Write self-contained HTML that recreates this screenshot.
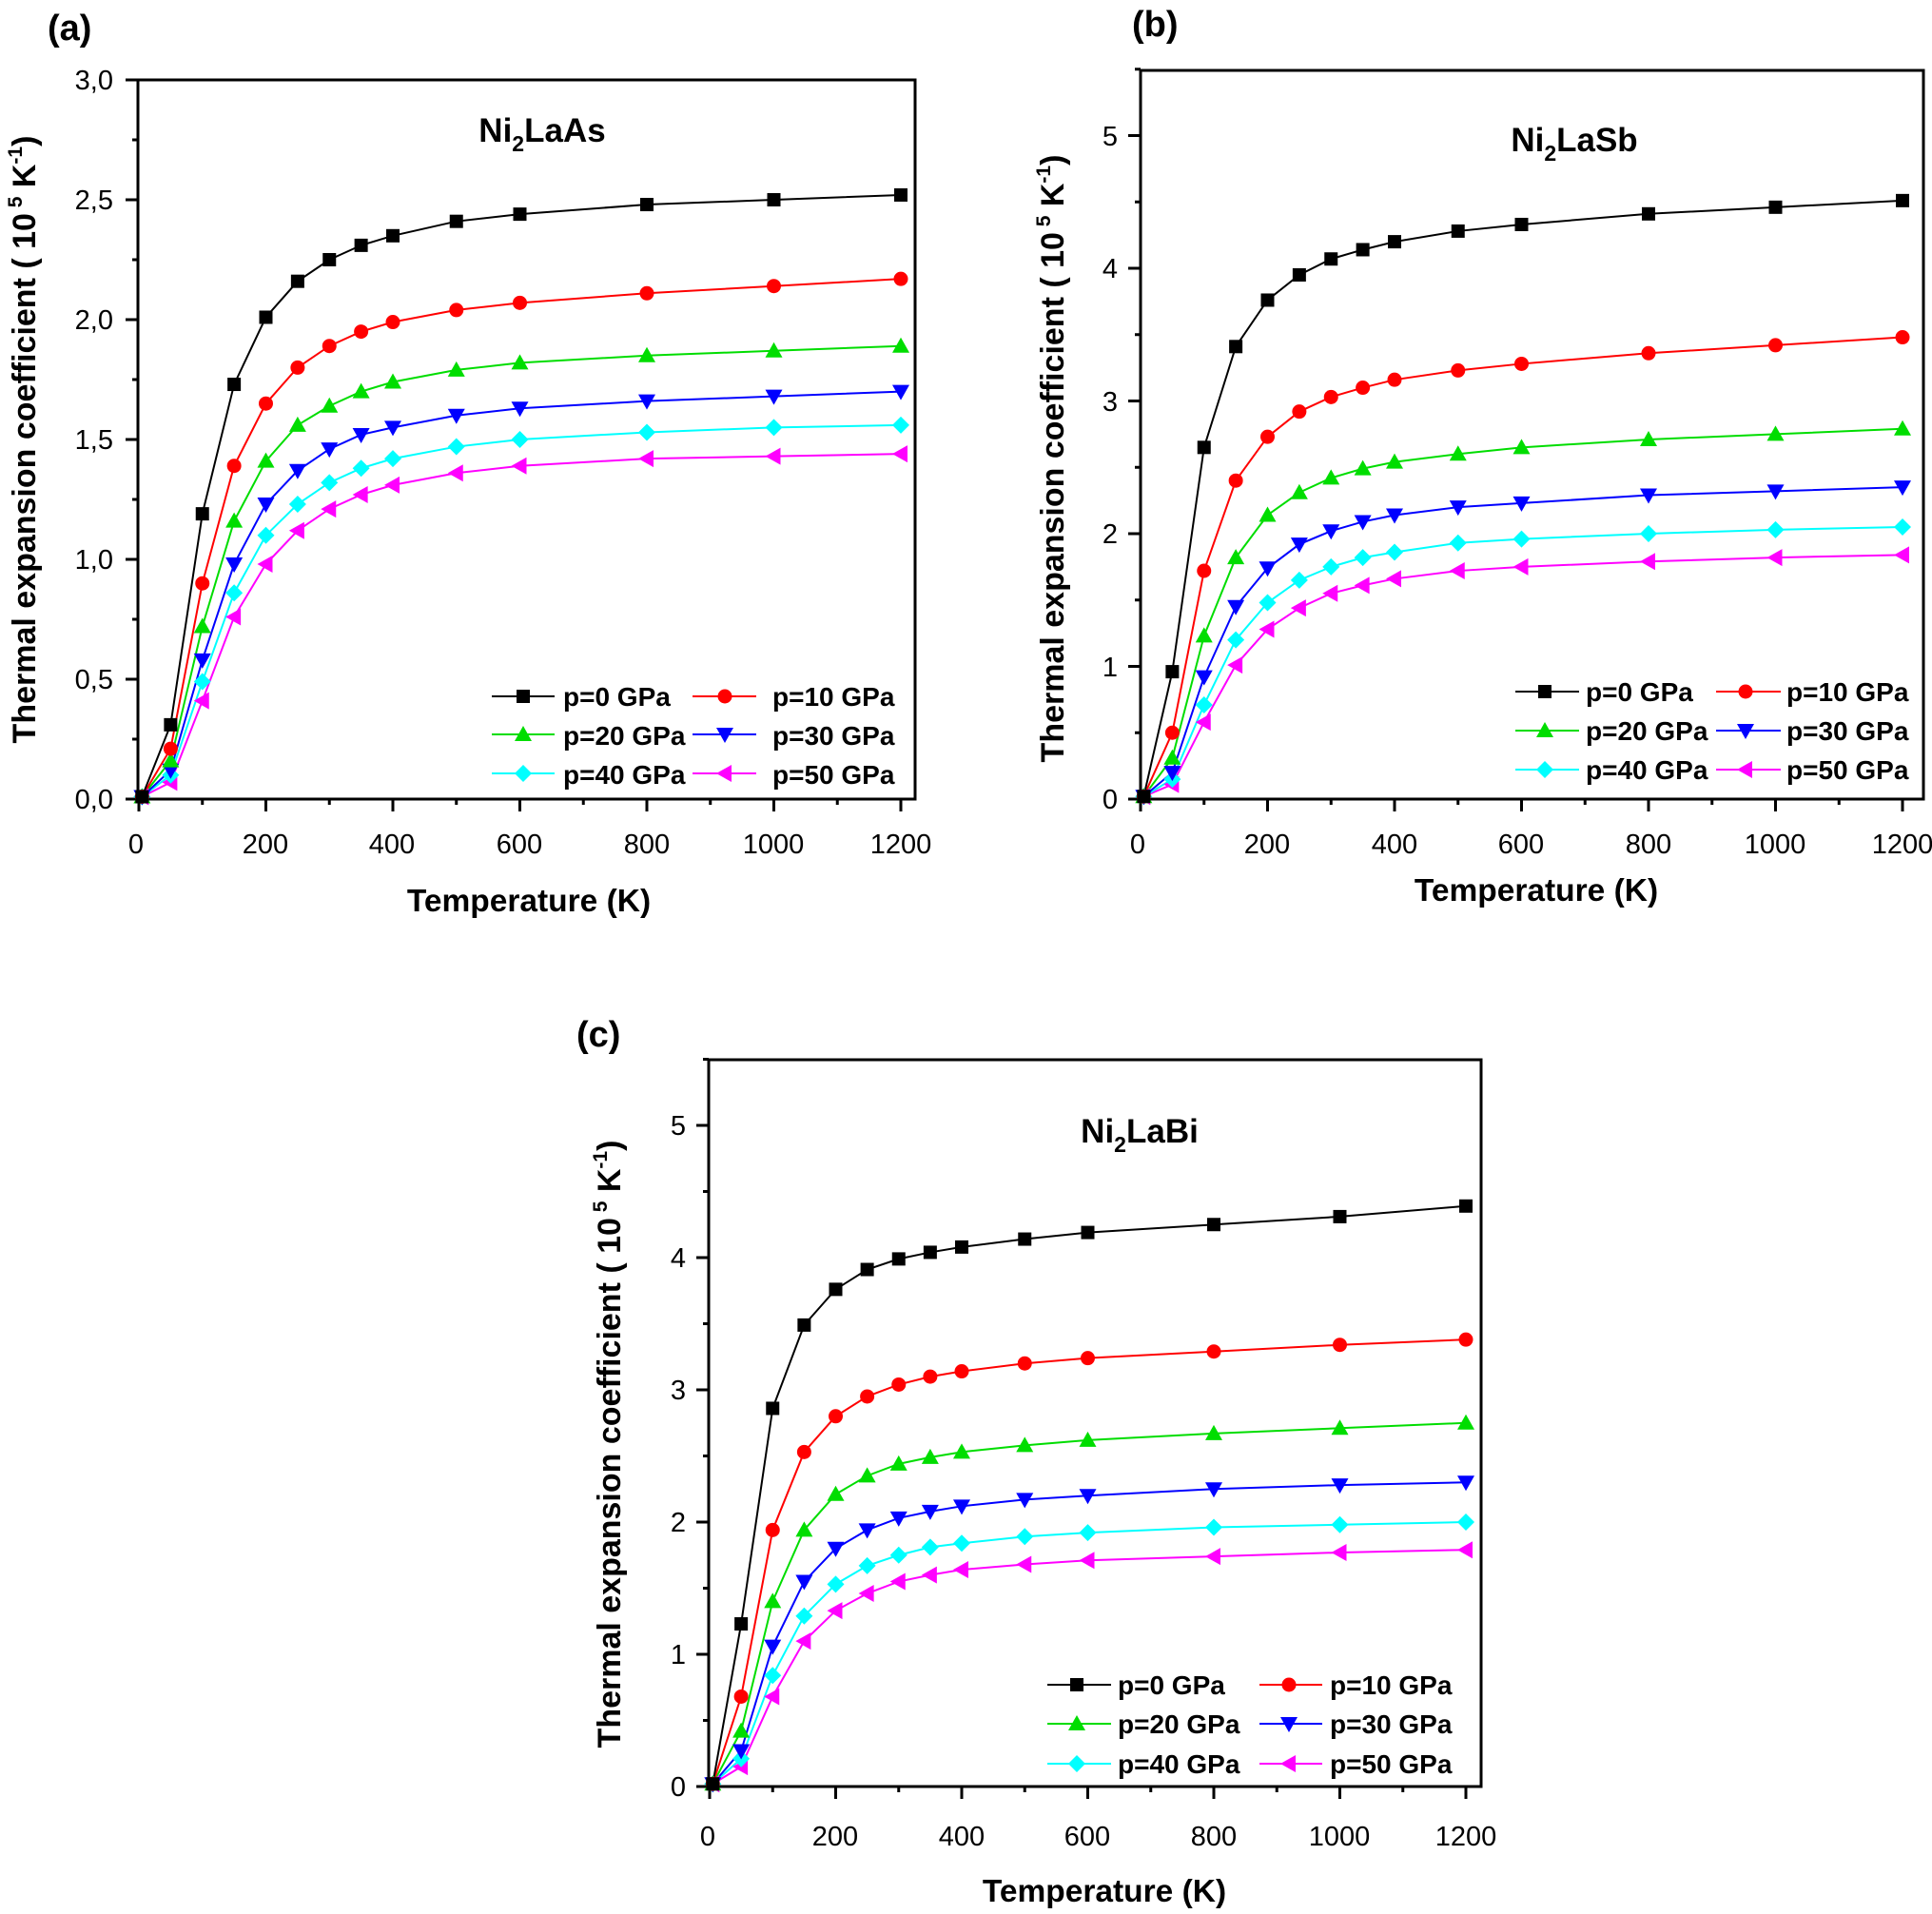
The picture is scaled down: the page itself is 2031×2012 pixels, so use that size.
<!DOCTYPE html>
<html><head><meta charset="utf-8"><style>
html,body{margin:0;padding:0;background:#fff}
svg{display:block}
text{font-family:"Liberation Sans",Arial,sans-serif}
.tk{font-size:29px}
.b{font-weight:bold}
.lg{font-size:28px;font-weight:bold}
</style></head><body>
<svg id="s" width="2031" height="2012" viewBox="0 0 2031 2012" xmlns="http://www.w3.org/2000/svg">
<g id="g"></g>
<text x="50" y="42" class="b" font-size="38">(a)</text>
<text x="1190" y="38" class="b" font-size="38">(b)</text>
<text x="606" y="1100" class="b" font-size="38">(c)</text>
<text x="570" y="149" class="b" font-size="35" text-anchor="middle">Ni<tspan font-size="23" dy="10">2</tspan><tspan dy="-10">LaAs</tspan></text>
<text x="1655" y="159" class="b" font-size="35" text-anchor="middle">Ni<tspan font-size="23" dy="10">2</tspan><tspan dy="-10">LaSb</tspan></text>
<text x="1198" y="1201" class="b" font-size="35" text-anchor="middle">Ni<tspan font-size="23" dy="10">2</tspan><tspan dy="-10">LaBi</tspan></text>
<text x="556" y="958" class="b" font-size="33.5" text-anchor="middle">Temperature (K)</text>
<text x="1615" y="947" class="b" font-size="33.5" text-anchor="middle">Temperature (K)</text>
<text x="1161" y="1999" class="b" font-size="33.5" text-anchor="middle">Temperature (K)</text>
<text transform="translate(37,462) rotate(-90)" class="b" font-size="34" text-anchor="middle">Thermal expansion coefficient ( 10<tspan font-size="21" dy="-14"> 5</tspan><tspan dy="14"> K</tspan><tspan font-size="21" dy="-14">-1</tspan><tspan dy="14">)</tspan></text>
<text transform="translate(1118,482) rotate(-90)" class="b" font-size="34" text-anchor="middle">Thermal expansion coefficient ( 10<tspan font-size="21" dy="-14"> 5</tspan><tspan dy="14"> K</tspan><tspan font-size="21" dy="-14">-1</tspan><tspan dy="14">)</tspan></text>
<text transform="translate(652,1518) rotate(-90)" class="b" font-size="34" text-anchor="middle">Thermal expansion coefficient ( 10<tspan font-size="21" dy="-14"> 5</tspan><tspan dy="14"> K</tspan><tspan font-size="21" dy="-14">-1</tspan><tspan dy="14">)</tspan></text>
<g class="tk" text-anchor="middle">
<text x="143" y="897">0</text><text x="279" y="897">200</text><text x="412" y="897">400</text><text x="546" y="897">600</text><text x="680" y="897">800</text><text x="813" y="897">1000</text><text x="947" y="897">1200</text>
<text x="1196" y="897">0</text><text x="1332" y="897">200</text><text x="1466" y="897">400</text><text x="1599" y="897">600</text><text x="1733" y="897">800</text><text x="1866" y="897">1000</text><text x="2000" y="897">1200</text>
<text x="744" y="1940">0</text><text x="878" y="1940">200</text><text x="1011" y="1940">400</text><text x="1143" y="1940">600</text><text x="1276" y="1940">800</text><text x="1408" y="1940">1000</text><text x="1541" y="1940">1200</text>
</g>
<g class="tk" text-anchor="end">
<text x="119" y="850">0,0</text><text x="119" y="724">0,5</text><text x="119" y="598">1,0</text><text x="119" y="472">1,5</text><text x="119" y="346">2,0</text><text x="119" y="220">2,5</text><text x="119" y="94">3,0</text>
<text x="1175" y="850">0</text><text x="1175" y="711">1</text><text x="1175" y="571">2</text><text x="1175" y="432">3</text><text x="1175" y="292">4</text><text x="1175" y="153">5</text>
<text x="721" y="1888">0</text><text x="721" y="1749">1</text><text x="721" y="1610">2</text><text x="721" y="1471">3</text><text x="721" y="1332">4</text><text x="721" y="1193">5</text>
</g>
<g class="lg">
<text x="592" y="742">p=0 GPa</text><text x="812" y="742">p=10 GPa</text>
<text x="592" y="783">p=20 GPa</text><text x="812" y="783">p=30 GPa</text>
<text x="592" y="824">p=40 GPa</text><text x="812" y="824">p=50 GPa</text>
<text x="1667" y="737">p=0 GPa</text><text x="1878" y="737">p=10 GPa</text>
<text x="1667" y="778">p=20 GPa</text><text x="1878" y="778">p=30 GPa</text>
<text x="1667" y="819">p=40 GPa</text><text x="1878" y="819">p=50 GPa</text>
<text x="1175" y="1781">p=0 GPa</text><text x="1398" y="1781">p=10 GPa</text>
<text x="1175" y="1822">p=20 GPa</text><text x="1398" y="1822">p=30 GPa</text>
<text x="1175" y="1864">p=40 GPa</text><text x="1398" y="1864">p=50 GPa</text>
</g>
</svg>
<script>
var NS="http://www.w3.org/2000/svg",G=document.getElementById("g");
function el(t,a){var e=document.createElementNS(NS,t);for(var k in a)e.setAttribute(k,a[k]);G.appendChild(e);return e;}
var cols=["#000","#f00","#0d0","#00f","#0ff","#f0f"];
function mk(i,x,y){var c=cols[i],s=7;
 if(i==0)el("rect",{x:x-s,y:y-s,width:2*s,height:2*s,fill:c});
 else if(i==1)el("circle",{cx:x,cy:y,r:7.5,fill:c});
 else if(i==2)el("polygon",{points:(x)+","+(y-9)+" "+(x+9)+","+(y+7)+" "+(x-9)+","+(y+7),fill:c});
 else if(i==3)el("polygon",{points:(x)+","+(y+9)+" "+(x+9)+","+(y-7)+" "+(x-9)+","+(y-7),fill:c});
 else if(i==4)el("polygon",{points:(x)+","+(y-9)+" "+(x+9)+","+y+" "+x+","+(y+9)+" "+(x-9)+","+y,fill:c});
 else el("polygon",{points:(x-9)+","+y+" "+(x+7)+","+(y-9)+" "+(x+7)+","+(y+9),fill:c});}
var X=[5,50,100,150,200,250,300,350,400,500,600,800,1000,1200];
var P=[
{l:145,t:84,r:962,b:840,x0:146,x1:947,y0:840,yu:252,ymax:3,maj:0.5,min:0.25,
leg:{rows:[732,772,813],c1:[517,583,550],c2:[728,795,762]},
d:[[0.01,0.31,1.19,1.73,2.01,2.16,2.25,2.31,2.35,2.41,2.44,2.48,2.50,2.52],
[0.01,0.21,0.90,1.39,1.65,1.80,1.89,1.95,1.99,2.04,2.07,2.11,2.14,2.17],
[0.01,0.16,0.72,1.16,1.41,1.56,1.64,1.70,1.74,1.79,1.82,1.85,1.87,1.89],
[0.01,0.12,0.58,0.98,1.23,1.37,1.46,1.52,1.55,1.60,1.63,1.66,1.68,1.70],
[0.01,0.10,0.49,0.86,1.10,1.23,1.32,1.38,1.42,1.47,1.50,1.53,1.55,1.56],
[0.01,0.07,0.41,0.76,0.98,1.12,1.21,1.27,1.31,1.36,1.39,1.42,1.43,1.44]]},
{l:1199,t:74,r:2022,b:840,x0:1199,x1:2000,y0:840,yu:139.5,ymax:5.5,maj:1,min:0.5,
leg:{rows:[727,768,809],c1:[1593,1660,1624],c2:[1804,1872,1835]},
d:[[0.02,0.96,2.65,3.41,3.76,3.95,4.07,4.14,4.20,4.28,4.33,4.41,4.46,4.51],
[0.02,0.50,1.72,2.40,2.73,2.92,3.03,3.10,3.16,3.23,3.28,3.36,3.42,3.48],
[0.02,0.31,1.23,1.82,2.14,2.31,2.42,2.49,2.54,2.60,2.65,2.71,2.75,2.79],
[0.02,0.20,0.92,1.45,1.74,1.92,2.02,2.09,2.14,2.20,2.23,2.29,2.32,2.35],
[0.02,0.15,0.71,1.20,1.48,1.65,1.75,1.82,1.86,1.93,1.96,2.00,2.03,2.05],
[0.02,0.11,0.58,1.01,1.28,1.44,1.55,1.61,1.66,1.72,1.75,1.79,1.82,1.84]]},
{l:745,t:1114,r:1557,b:1878,x0:746,x1:1541,y0:1878,yu:139,ymax:5.5,maj:1,min:0.5,
leg:{rows:[1771,1812,1854],c1:[1101,1168,1132],c2:[1324,1390,1355]},
d:[[0.02,1.23,2.86,3.49,3.76,3.91,3.99,4.04,4.08,4.14,4.19,4.25,4.31,4.39],
[0.02,0.68,1.94,2.53,2.80,2.95,3.04,3.10,3.14,3.20,3.24,3.29,3.34,3.38],
[0.02,0.42,1.40,1.94,2.21,2.35,2.44,2.49,2.53,2.58,2.62,2.67,2.71,2.75],
[0.02,0.27,1.06,1.55,1.80,1.94,2.03,2.08,2.12,2.17,2.20,2.25,2.28,2.30],
[0.02,0.21,0.84,1.29,1.53,1.67,1.75,1.81,1.84,1.89,1.92,1.96,1.98,2.00],
[0.02,0.15,0.68,1.10,1.33,1.46,1.55,1.60,1.64,1.68,1.71,1.74,1.77,1.79]]}];
P.forEach(function(p){
 var xs=(p.x1-p.x0)/1200;
 el("rect",{x:p.l,y:p.t,width:p.r-p.l,height:p.b-p.t,fill:"none",stroke:"#000","stroke-width":3});
 for(var v=0;v<=1200;v+=100){var x=p.x0+v*xs;el("line",{x1:x,x2:x,y1:p.b,y2:p.b+(v%200==0?13:6),stroke:"#000","stroke-width":3});}
 for(var k=0;k*p.min<=p.ymax+1e-6;k++){var y=p.y0-k*p.min*p.yu;el("line",{x1:p.l,x2:p.l-(k%2==0?13:6),y1:y,y2:y,stroke:"#000","stroke-width":3});}
 for(var i=5;i>=0;i--){
  var pts=X.map(function(x,j){return (p.x0+x*xs)+","+(p.y0-p.d[i][j]*p.yu);}).join(" ");
  el("polyline",{points:pts,fill:"none",stroke:cols[i],"stroke-width":2});
 }
 for(var i=5;i>=0;i--)X.forEach(function(x,j){mk(i,p.x0+x*xs,p.y0-p.d[i][j]*p.yu);});
 var L=p.leg;
 for(var i=0;i<6;i++){var c=i%2?L.c2:L.c1,y=L.rows[Math.floor(i/2)];
  el("line",{x1:c[0],x2:c[1],y1:y,y2:y,stroke:cols[i],"stroke-width":2});mk(i,c[2],y);}
});
</script>
</body></html>
